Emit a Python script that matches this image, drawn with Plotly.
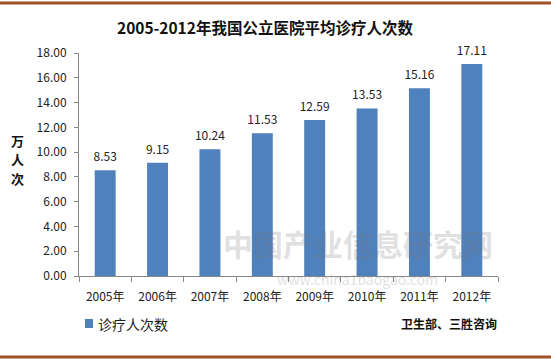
import plotly.graph_objects as go

years = ["2005年", "2006年", "2007年", "2008年", "2009年", "2010年", "2011年", "2012年"]
visits = [8.53, 9.15, 10.24, 11.53, 12.59, 13.53, 15.16, 17.11]
y_ticks = [0, 2, 4, 6, 8, 10, 12, 14, 16, 18]

FONT = "Noto Sans CJK SC, sans-serif"
L, R, T, B = 79, 53, 53, 84
PW, PH = 551 - L - R, 360 - T - B


def px(x):
    return (x - L) / PW


def py(y):
    return (360 - B - y) / PH


def ann(text, x, y, size, color="#222", xanchor="center", **kw):
    return dict(text=text, xref="paper", yref="paper", x=px(x), y=py(y),
                xanchor=xanchor, yanchor="middle", showarrow=False,
                font=dict(size=size, family=FONT, color=color), **kw)


fig = go.Figure()
fig.add_trace(go.Bar(
    x=years, y=visits, name="诊疗人次数",
    marker=dict(color="#4F81BD", line=dict(width=0)),
    width=0.4, hoverinfo="skip",
))
fig.add_trace(go.Scatter(
    x=years, y=visits, mode="markers+text",
    marker=dict(size=8, color="rgba(0,0,0,0)"),
    text=[f"{v:.2f}" for v in visits], textposition="top center",
    textfont=dict(size=12, color="#222", family=FONT),
    cliponaxis=False, hoverinfo="skip",
))

fig.update_layout(
    width=551, height=360,
    paper_bgcolor="white", plot_bgcolor="white",
    margin=dict(l=L, r=R, t=T, b=B),
    font=dict(family=FONT, color="#222"),
    showlegend=False,
    xaxis=dict(
        showline=True, linecolor="#888", linewidth=1,
        ticks="outside", ticklen=5, tickcolor="#888",
        tickson="boundaries", ticklabelstandoff=10,
        tickfont=dict(size=12, family=FONT, color="#222"),
        showgrid=False, fixedrange=True,
    ),
    yaxis=dict(
        range=[0, 18], tickvals=y_ticks,
        ticktext=[f"{v:.2f}" for v in y_ticks],
        showline=True, linecolor="#888", linewidth=1,
        ticks="outside", ticklen=4, tickcolor="#888",
        ticklabelstandoff=5,
        tickfont=dict(size=12, family=FONT, color="#222"),
        showgrid=False, zeroline=False, fixedrange=True,
    ),
    shapes=[
        dict(type="line", xref="paper", yref="paper", x0=px(0), x1=px(551),
             y0=py(3), y1=py(3), line=dict(color="#A0522D", width=3)),
        dict(type="line", xref="paper", yref="paper", x0=px(0), x1=px(551),
             y0=py(357), y1=py(357), line=dict(color="#A0522D", width=3)),
        dict(type="rect", xref="paper", yref="paper",
             x0=px(85), x1=px(93), y0=py(328), y1=py(319),
             fillcolor="#4F81BD", line=dict(width=0)),
    ],
    annotations=[
        ann("<b>2005-2012年我国公立医院平均诊疗人次数</b>", 265, 27, 15.5, "#111"),
        ann("<b>万</b>", 17, 140, 13, "#111"),
        ann("<b>人</b>", 17, 159, 13, "#111"),
        ann("<b>次</b>", 17, 178, 13, "#111"),
        ann("诊疗人次数", 96, 324, 14, "#222", xanchor="left"),
        ann("<b>卫生部、三胜咨询</b>", 499, 323, 12, "#111", xanchor="right"),
        ann("<b>中国产业信息研究网</b>", 358, 243, 30, "#777", opacity=0.22),
        ann("www.china1baogao.com", 357, 279, 14, "#777", opacity=0.22, borderpad=0),
    ],
)

fig.write_html("out.html", config={"displayModeBar": False},
               post_script="document.body.style.margin='0';")
